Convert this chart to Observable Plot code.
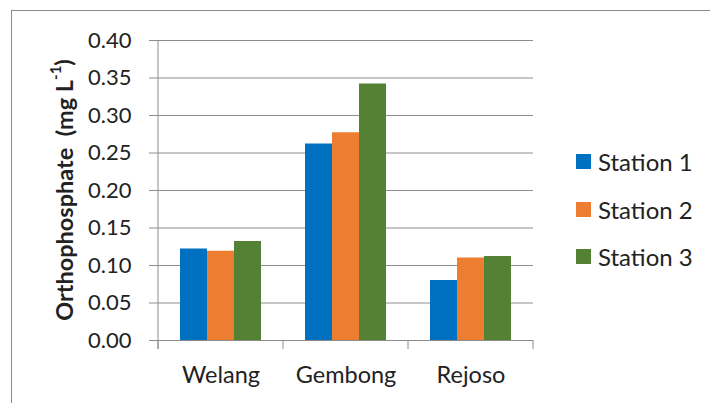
<!DOCTYPE html>
<html>
<head>
<meta charset="utf-8">
<script src="https://cdn.jsdelivr.net/npm/d3@7"></script>
<script src="https://cdn.jsdelivr.net/npm/@observablehq/plot@0.6"></script>
<style>
  html, body { margin: 0; padding: 0; background: #fff; }
  #wrap { position: relative; width: 710px; height: 403px; overflow: hidden; font-family: Lato, "Open Sans", sans-serif; }
  #border { position: absolute; left: 11px; top: 10px; width: 800px; height: 500px; border-left: 1.5px solid #8a8a8a; border-top: 1.5px solid #8a8a8a; }
  #chart { position: absolute; left: 0; top: 0; }
  #legend { position: absolute; left: 576px; top: 138px; }
  .item { display: flex; align-items: center; height: 47.5px; font-size: 24px; color: #222; }
  .sw { width: 15px; height: 15px; margin-right: 7px; }
</style>
</head>
<body>
<div id="wrap">
  <div id="border"></div>
  <div id="chart"></div>
  <div id="legend"></div>
</div>
<script>
const sites = ["Welang", "Gembong", "Rejoso"];
const stations = ["Station 1", "Station 2", "Station 3"];
const colors = ["#0070C0", "#ED7D31", "#548235"];
const station1 = [0.122, 0.262, 0.080];
const station2 = [0.119, 0.277, 0.110];
const station3 = [0.132, 0.342, 0.112];
const yTicks = [0, 0.05, 0.10, 0.15, 0.20, 0.25, 0.30, 0.35, 0.40];

const series = [station1, station2, station3];
const data = [];
sites.forEach((s, i) => stations.forEach((st, k) => data.push({site: s, station: st, value: series[k][i]})));

const gridColor = "#8c8c8c";
const chart = Plot.plot({
  width: 710,
  height: 403,
  marginLeft: 157,
  marginRight: 177,
  marginTop: 40,
  marginBottom: 63,
  style: {fontFamily: "Lato, 'Open Sans', sans-serif", background: "transparent", overflow: "visible"},
  fx: {domain: sites, padding: 0, label: null},
  x: {domain: stations, paddingInner: 0, paddingOuter: 0.76, axis: null},
  y: {domain: [0, 0.4], axis: null},
  color: {domain: stations, range: colors},
  marks: [
    Plot.gridY(yTicks, {stroke: gridColor, strokeOpacity: 1, strokeWidth: 1}),
    Plot.barY(data, {fx: "site", x: "station", y: "value", fill: "station"}),
    Plot.axisY(yTicks, {anchor: "left", tickSize: 9, tickPadding: 18, tickFormat: d3.format(".2f"), fontSize: 22, fill: "#222", stroke: gridColor, label: null}),
    Plot.axisFx({anchor: "bottom", tickSize: 0, tickPadding: 26, fontSize: 23.5, fill: "#222", label: null})
  ]
});
document.getElementById("chart").appendChild(chart);

// axis line and category boundary ticks, computed from Plot's scales
const fx = chart.scale("fx"), y = chart.scale("y");
const svg = d3.select(chart);
const y0 = y.apply(0), yTop = y.apply(0.4);
const bounds = sites.map(s => fx.apply(s)).concat([fx.apply(sites[sites.length - 1]) + fx.bandwidth]);
const g = svg.append("g").attr("stroke", gridColor).attr("stroke-width", 1);
g.append("line").attr("x1", bounds[0]).attr("x2", bounds[0]).attr("y1", yTop).attr("y2", y0 + 9);
bounds.forEach(b => g.append("line").attr("x1", b).attr("x2", b).attr("y1", y0).attr("y2", y0 + 9));

// y axis title with superscript
const title = svg.append("text")
  .attr("transform", `translate(64,${(y0 + yTop) / 2}) rotate(-90)`)
  .attr("text-anchor", "middle")
  .attr("dominant-baseline", "central")
  .attr("font-size", 23.5)
  .attr("font-weight", "bold")
  .attr("fill", "#222");
title.append("tspan").text("Orthophosphate  (mg L");
title.append("tspan").attr("font-size", 15).attr("dy", "-0.6em").text("-1");
title.append("tspan").attr("dy", "0.35em").text(")");

// legend
const legend = document.getElementById("legend");
stations.forEach((st, k) => {
  const item = document.createElement("div");
  item.className = "item";
  const sw = document.createElement("div");
  sw.className = "sw";
  sw.style.background = colors[k];
  item.appendChild(sw);
  item.appendChild(document.createTextNode(st));
  legend.appendChild(item);
});
</script>
</body>
</html>
